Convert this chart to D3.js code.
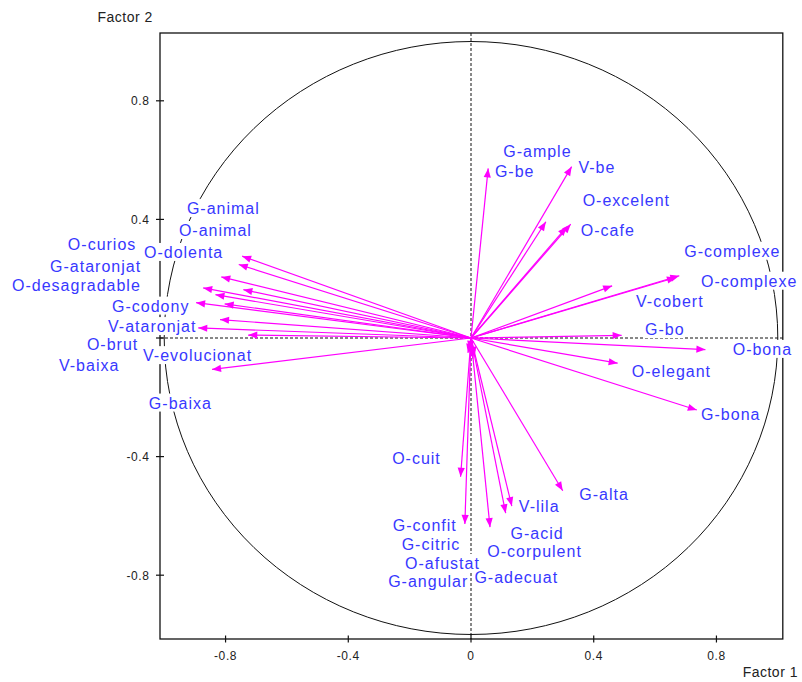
<!DOCTYPE html>
<html>
<head>
<meta charset="utf-8">
<script src="https://cdn.jsdelivr.net/npm/d3@7"></script>
<style>
  body { margin: 0; background: #ffffff; }
  svg { display: block; }
</style>
</head>
<body>
<svg id="chart" width="802" height="682"></svg>
<script>
// Correlation circle: loadings of each descriptor on the first two factors
const variables = [
  "G-animal", "O-animal", "O-curios", "O-dolenta", "G-ataronjat", "O-desagradable",
  "G-codony", "V-ataronjat", "O-brut", "V-baixa", "V-evolucionat", "G-baixa",
  "G-be", "V-be", "G-ample", "O-excelent", "O-cafe", "G-complexe", "O-complexe",
  "V-cobert", "G-bo", "O-bona", "O-elegant", "G-bona",
  "G-alta", "V-lila", "G-acid", "O-corpulent", "G-confit", "O-cuit",
  "G-citric", "O-afustat", "G-angular", "G-adecuat"
];
const factor1 = [
  -0.746, -0.757, -0.814, -0.742, -0.873, -0.833,
  -0.896, -0.889, -0.803, -0.818, -0.726, -0.844,
  0.056, 0.328, 0.244, 0.325, 0.312, 0.679, 0.668,
  0.460, 0.491, 0.764, 0.478, 0.736,
  0.299, 0.133, 0.113, 0.062, -0.020, -0.034,
  -0.010, 0.006, -0.004, 0.012
];
const factor2 = [
  0.276, 0.248, 0.206, 0.163, 0.169, 0.146,
  0.119, 0.034, 0.115, 0.062, 0.010, -0.106,
  0.572, 0.578, 0.392, 0.384, 0.375, 0.210, 0.204,
  0.176, 0.009, -0.039, -0.085, -0.243,
  -0.515, -0.567, -0.591, -0.638, -0.627, -0.468,
  -0.050, -0.070, -0.040, -0.060
];
// Where each name is printed (text start and baseline, in factor units)
const labelF1 = [
  -0.926, -0.952, -1.314, -1.066, -1.372, -1.496,
  -1.170, -1.183, -1.252, -1.343, -1.069, -1.050,
  0.078, 0.350, 0.105, 0.364, 0.358, 0.695, 0.750,
  0.538, 0.567, 0.853, 0.524, 0.750,
  0.353, 0.156, 0.129, 0.053, -0.255, -0.257,
  -0.226, -0.215, -0.270, 0.011
];
const labelF2 = [
  0.418, 0.344, 0.298, 0.270, 0.221, 0.158,
  0.089, 0.020, -0.042, -0.110, -0.078, -0.238,
  0.544, 0.555, 0.609, 0.445, 0.344, 0.274, 0.173,
  0.106, 0.010, -0.057, -0.133, -0.277,
  -0.546, -0.586, -0.677, -0.738, -0.650, -0.425,
  -0.715, -0.779, -0.839, -0.825
];
const xTicks = [-0.8, -0.4, 0, 0.4, 0.8];
const xTickLabels = ["-0.8", "-0.4", "0", "0.4", "0.8"];
const yTicks = [0.8, 0.4, 0, -0.4, -0.8];
const yTickLabels = ["0.8", "0.4", "", "-0.4", "-0.8"];
const xTitle = "Factor 1";
const yTitle = "Factor 2";

const svg = d3.select("#chart");
const x = d3.scaleLinear().domain([-1.0137, 1.0163]).range([160, 782.8]);
const y = d3.scaleLinear().domain([-1.0152, 1.0287]).range([639, 33]);

const textFont = "'Liberation Sans', Arial, sans-serif";
const magenta = "#ff00ff";
const labelBlue = "#3838ff";

// Frame
svg.append("rect")
  .attr("x", x.range()[0]).attr("y", y.range()[1])
  .attr("width", x.range()[1] - x.range()[0])
  .attr("height", y.range()[0] - y.range()[1])
  .attr("fill", "none").attr("stroke", "#111").attr("stroke-width", 1.3);

// Unit circle
svg.append("ellipse")
  .attr("cx", x(0)).attr("cy", y(0))
  .attr("rx", x(1) - x(0)).attr("ry", y(0) - y(1))
  .attr("fill", "none").attr("stroke", "#111").attr("stroke-width", 1);

// Dashed axes through the origin
svg.append("line")
  .attr("x1", x.range()[0]).attr("x2", x.range()[1])
  .attr("y1", y(0)).attr("y2", y(0))
  .attr("stroke", "#111").attr("stroke-width", 1).attr("stroke-dasharray", "3,2");
svg.append("line")
  .attr("x1", x(0)).attr("x2", x(0))
  .attr("y1", y.range()[1]).attr("y2", y.range()[0])
  .attr("stroke", "#111").attr("stroke-width", 1).attr("stroke-dasharray", "3,2");

// Ticks crossing the frame
svg.selectAll(".xtick").data(xTicks).join("line")
  .attr("x1", d => x(d)).attr("x2", d => x(d))
  .attr("y1", y.range()[0] - 3.5).attr("y2", y.range()[0] + 3.5)
  .attr("stroke", "#111").attr("stroke-width", 1.2);
svg.selectAll(".ytick").data(yTicks).join("line")
  .attr("y1", d => y(d)).attr("y2", d => y(d))
  .attr("x1", x.range()[0] - 4).attr("x2", x.range()[0] + 4)
  .attr("stroke", "#111").attr("stroke-width", 1.2);

svg.selectAll(".xtl").data(xTicks).join("text")
  .attr("x", d => x(d)).attr("y", y.range()[0] + 21)
  .attr("text-anchor", "middle")
  .style("font-family", textFont).style("font-size", "12px")
  .style("letter-spacing", "0.6px").attr("fill", "#222")
  .text((d, i) => xTickLabels[i]);
svg.selectAll(".ytl").data(yTicks).join("text")
  .attr("x", x.range()[0] - 10.5).attr("y", d => y(d) + 4.5)
  .attr("text-anchor", "end")
  .style("font-family", textFont).style("font-size", "12px")
  .style("letter-spacing", "0.6px").attr("fill", "#222")
  .text((d, i) => yTickLabels[i]);

svg.append("text")
  .attr("x", 97.5).attr("y", 22)
  .style("font-family", textFont).style("font-size", "14px")
  .style("letter-spacing", "0.5px").attr("fill", "#222")
  .text(yTitle);
svg.append("text")
  .attr("x", 798).attr("y", 677).attr("text-anchor", "end")
  .style("font-family", textFont).style("font-size", "14px")
  .style("letter-spacing", "0.5px").attr("fill", "#222")
  .text(xTitle);

const rows = variables.map((name, i) => ({
  name, f1: factor1[i], f2: factor2[i], lx: labelF1[i], ly: labelF2[i]
}));

// Labels sit on white boxes that mask the lines beneath them
const boxLayer = svg.append("g");
const arrowLayer = svg.append("g");
const textLayer = svg.append("g");

const labels = textLayer.selectAll("text").data(rows).join("text")
  .attr("x", d => x(d.lx)).attr("y", d => y(d.ly))
  .style("font-family", textFont).style("font-size", "16px")
  .style("letter-spacing", "1px").attr("fill", labelBlue)
  .text(d => d.name);

labels.each(function (d) {
  const w = this.getComputedTextLength();
  boxLayer.append("rect")
    .attr("x", x(d.lx) - 1).attr("y", y(d.ly) - 15)
    .attr("width", w + 1).attr("height", 18)
    .attr("fill", "#ffffff");
});

// Arrows from the origin to each loading
const headLen = 9, headHalf = 3.6;
arrowLayer.selectAll("line").data(rows).join("line")
  .attr("x1", x(0)).attr("y1", y(0))
  .attr("x2", d => x(d.f1)).attr("y2", d => y(d.f2))
  .attr("stroke", magenta).attr("stroke-width", 1.2);
arrowLayer.selectAll("path").data(rows).join("path")
  .attr("fill", magenta)
  .attr("d", d => {
    const tx = x(d.f1), ty = y(d.f2);
    const dx = tx - x(0), dy = ty - y(0);
    const len = Math.hypot(dx, dy) || 1;
    const ux = dx / len, uy = dy / len;
    const bx = tx - ux * headLen, by = ty - uy * headLen;
    return `M${tx},${ty}L${bx - uy * headHalf},${by + ux * headHalf}` +
           `L${bx + uy * headHalf},${by - ux * headHalf}Z`;
  });
</script>
</body>
</html>
